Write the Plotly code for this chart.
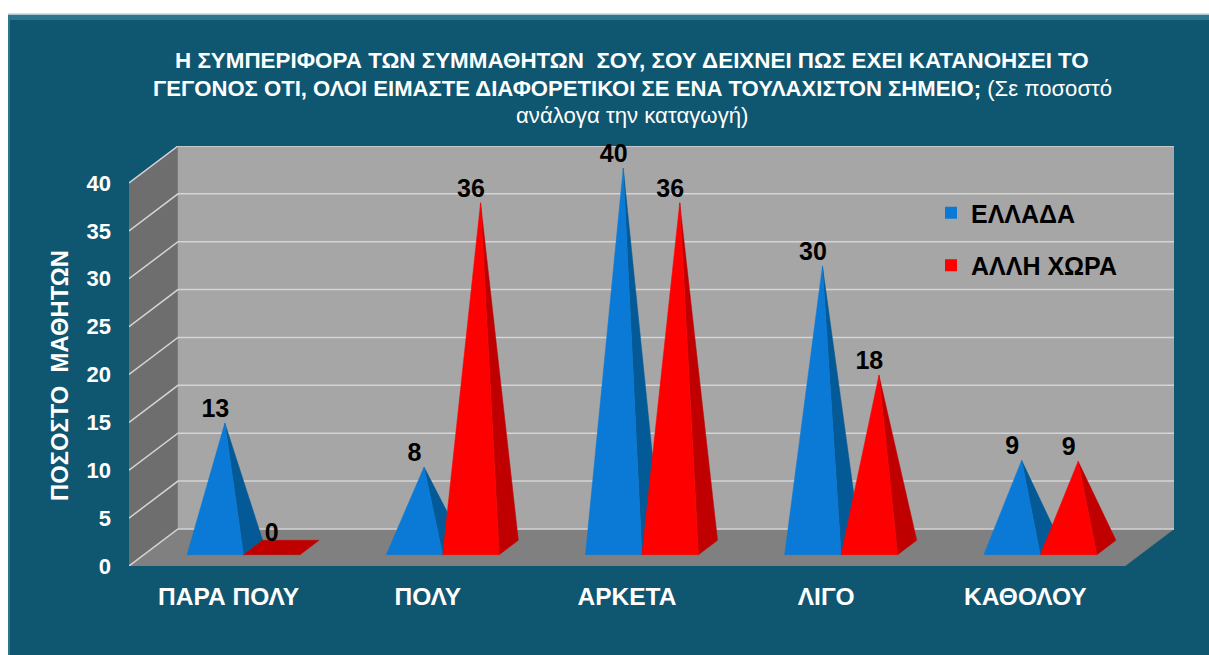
import plotly.graph_objects as go

categories = ["ΠΑΡΑ ΠΟΛΥ", "ΠΟΛΥ", "ΑΡΚΕΤΑ", "ΛΙΓΟ", "ΚΑΘΟΛΟΥ"]
greece = [13, 8.4, 39.6, 29.4, 9.1]
other = [0, 36, 36, 18, 9]
greece_labels = ["13", "8", "40", "30", "9"]
other_labels = ["0", "36", "36", "18", "9"]
series_names = ["ΕΛΛΑΔΑ", "ΑΛΛΗ ΧΩΡΑ"]
y_ticks = [0, 5, 10, 15, 20, 25, 30, 35, 40]

title_lines = [
    "<b>Η ΣΥΜΠΕΡΙΦΟΡΑ ΤΩΝ ΣΥΜΜΑΘΗΤΩΝ\u00a0 ΣΟΥ, ΣΟΥ ΔΕΙΧΝΕΙ ΠΩΣ ΕΧΕΙ ΚΑΤΑΝΟΗΣΕΙ ΤΟ</b>",
    "<b>ΓΕΓΟΝΟΣ ΟΤΙ, ΟΛΟΙ ΕΙΜΑΣΤΕ ΔΙΑΦΟΡΕΤΙΚΟΙ ΣΕ ΕΝΑ ΤΟΥΛΑΧΙΣΤΟΝ ΣΗΜΕΙΟ;</b> (Σε ποσοστό",
    "ανάλογα την καταγωγή)",
]
y_title = "<b>ΠΟΣΟΣΤΟ\u00a0 ΜΑΘΗΤΩΝ</b>"

W, H = 1209, 655
L, R, T, B = 129, 1174, 146, 566   # plot box in page pixels

# oblique projection: depth d in 0..1 shifts a point right and up
DX = 0.246       # category units across the full depth
DY = 3.866       # value units across the full depth
BAR = 0.2836     # bar width in category units
D0, D1 = 0.305, 0.695   # base depth extent
N = len(categories)
X_MAX = N + DX
Y_MAX = 40 + DY

BLUE, BLUE_SIDE = "#0A7AD6", "#045A96"
RED, RED_SIDE = "#FF0000", "#C00000"
WALL, SIDE, FLOOR, GRID = "#A6A6A6", "#6E6E6E", "#808080", "#D4D4D4"
PANEL = "#0F5670"


def px(x, d):
    return x + DX * d


def py(v, d):
    return v + DY * d


def poly(xs, ys, color, name=None):
    return go.Scatter(x=xs + xs[:1], y=ys + ys[:1], mode="lines", fill="toself",
                      fillcolor=color, line=dict(color=color, width=0.5),
                      hoverinfo="skip", showlegend=False, cliponaxis=False)


traces = []
# walls and floor
traces.append(poly([0, px(0, 1), px(0, 1), 0], [0, py(0, 1), py(40, 1), py(40, 0)], SIDE))
traces.append(poly([px(0, 1), px(N, 1), px(N, 1), px(0, 1)], [py(0, 1), py(0, 1), py(40, 1), py(40, 1)], WALL))
traces.append(poly([0, N, px(N, 1), px(0, 1)], [0, 0, py(0, 1), py(0, 1)], FLOOR))

# grid lines run across the side wall and the back wall
for t in y_ticks:
    traces.append(go.Scatter(x=[0, px(0, 1), px(N, 1)], y=[py(t, 0), py(t, 1), py(t, 1)],
                             mode="lines", line=dict(color=GRID, width=1.5),
                             hoverinfo="skip", showlegend=False, cliponaxis=False))


def pyramid(x0, v, front, side):
    x1 = x0 + BAR
    if v == 0:
        return [poly([px(x0, D0), px(x1, D0), px(x1, D1), px(x0, D1)],
                     [py(0, D0), py(0, D0), py(0, D1), py(0, D1)], side)]
    ax = px(x0 + BAR / 2, 0.5)
    ay = py(v, 0.5)
    return [
        poly([px(x1, D0), px(x1, D1), ax], [py(0, D0), py(0, D1), ay], side),
        poly([px(x0, D0), px(x1, D0), ax], [py(0, D0), py(0, D0), ay], front),
    ]


label_x, label_y, label_t = [], [], []
for i in range(N):
    c = i + 0.5
    for x0, v, lab, f, s in ((c - BAR, greece[i], greece_labels[i], BLUE, BLUE_SIDE),
                             (c, other[i], other_labels[i], RED, RED_SIDE)):
        traces.extend(pyramid(x0, v, f, s))
        label_x.append(px(x0 + BAR / 2, D0))
        label_y.append(py(v, 0.5))
        label_t.append(lab)

traces.append(go.Scatter(x=label_x, y=label_y, text=label_t, mode="text", textposition="top center",
                         textfont=dict(family="Liberation Sans", size=25, color="#000000", weight="bold"),
                         hoverinfo="skip", showlegend=False, cliponaxis=False))

# legend entries
for name, color in zip(series_names, (BLUE, RED)):
    traces.append(go.Scatter(x=[None], y=[None], mode="markers", name=name, legendgroup=name,
                             marker=dict(symbol="square", size=12, color=color)))

fig = go.Figure(traces)


def fx(p):
    return (p - L) / (R - L)


def fy(p):
    return (B - p) / (B - T)


shapes = [
    dict(type="rect", xref="paper", yref="paper", layer="below", line_width=0, fillcolor=PANEL,
         x0=fx(8), x1=fx(W), y0=fy(H), y1=fy(14)),
    dict(type="rect", xref="paper", yref="paper", layer="below", line_width=0, fillcolor="#2C7591",
         x0=fx(8), x1=fx(W), y0=fy(20), y1=fy(15)),
    dict(type="rect", xref="paper", yref="paper", layer="below", line_width=0, fillcolor="#A9C6D0",
         x0=fx(8), x1=fx(W), y0=fy(15), y1=fy(13.5)),
    dict(type="rect", xref="paper", yref="paper", layer="below", line_width=0, fillcolor="#2C7591",
         x0=fx(8), x1=fx(10), y0=fy(H), y1=fy(15)),
]

annotations = [
    dict(text=title_lines[0], x=fx(632), y=fy(60), font=dict(family="Liberation Sans", size=22.4, color="#FFFFFF")),
    dict(text=title_lines[1], x=fx(632), y=fy(88), font=dict(family="Liberation Sans", size=22.1, color="#FFFFFF")),
    dict(text=title_lines[2], x=fx(632), y=fy(115), font=dict(family="Liberation Sans", size=22.2, color="#FFFFFF")),
]
for a in annotations:
    a.update(xref="paper", yref="paper", showarrow=False, xanchor="center", yanchor="middle")
annotations.append(dict(text=y_title, xref="paper", yref="paper", x=fx(59), y=fy(376), showarrow=False,
                        textangle=-90, xanchor="center", yanchor="middle",
                        font=dict(family="Liberation Sans", size=23.8, color="#FFFFFF")))

fig.update_layout(
    width=W, height=H, autosize=False,
    margin=dict(l=L, r=W - R, t=T, b=H - B, pad=0),
    paper_bgcolor="#FFFFFF", plot_bgcolor="rgba(0,0,0,0)",
    shapes=shapes, annotations=annotations,
    legend=dict(x=fx(931), y=fy(190), xanchor="left", yanchor="top", bgcolor="rgba(0,0,0,0)",
                tracegroupgap=17, traceorder="grouped",
                font=dict(family="Liberation Sans", size=25, color="#000000", weight="bold")),
    xaxis=dict(range=[0, X_MAX], showgrid=False, zeroline=False, showline=False, ticks="",
               tickmode="array", tickvals=[i + 0.5 for i in range(N)], ticktext=categories,
               ticklabelstandoff=13,
               tickfont=dict(family="Liberation Sans", size=24.5, color="#FFFFFF", weight="bold")),
    yaxis=dict(range=[0, Y_MAX], showgrid=False, zeroline=False, showline=False, ticks="",
               tickmode="array", tickvals=y_ticks, ticklabelstandoff=17,
               tickfont=dict(family="Liberation Sans", size=22, color="#FFFFFF", weight="bold")),
)

fig.write_html("out.html", config=dict(displayModeBar=False),
               post_script="document.body.style.margin='0';document.body.style.overflow='hidden';")
